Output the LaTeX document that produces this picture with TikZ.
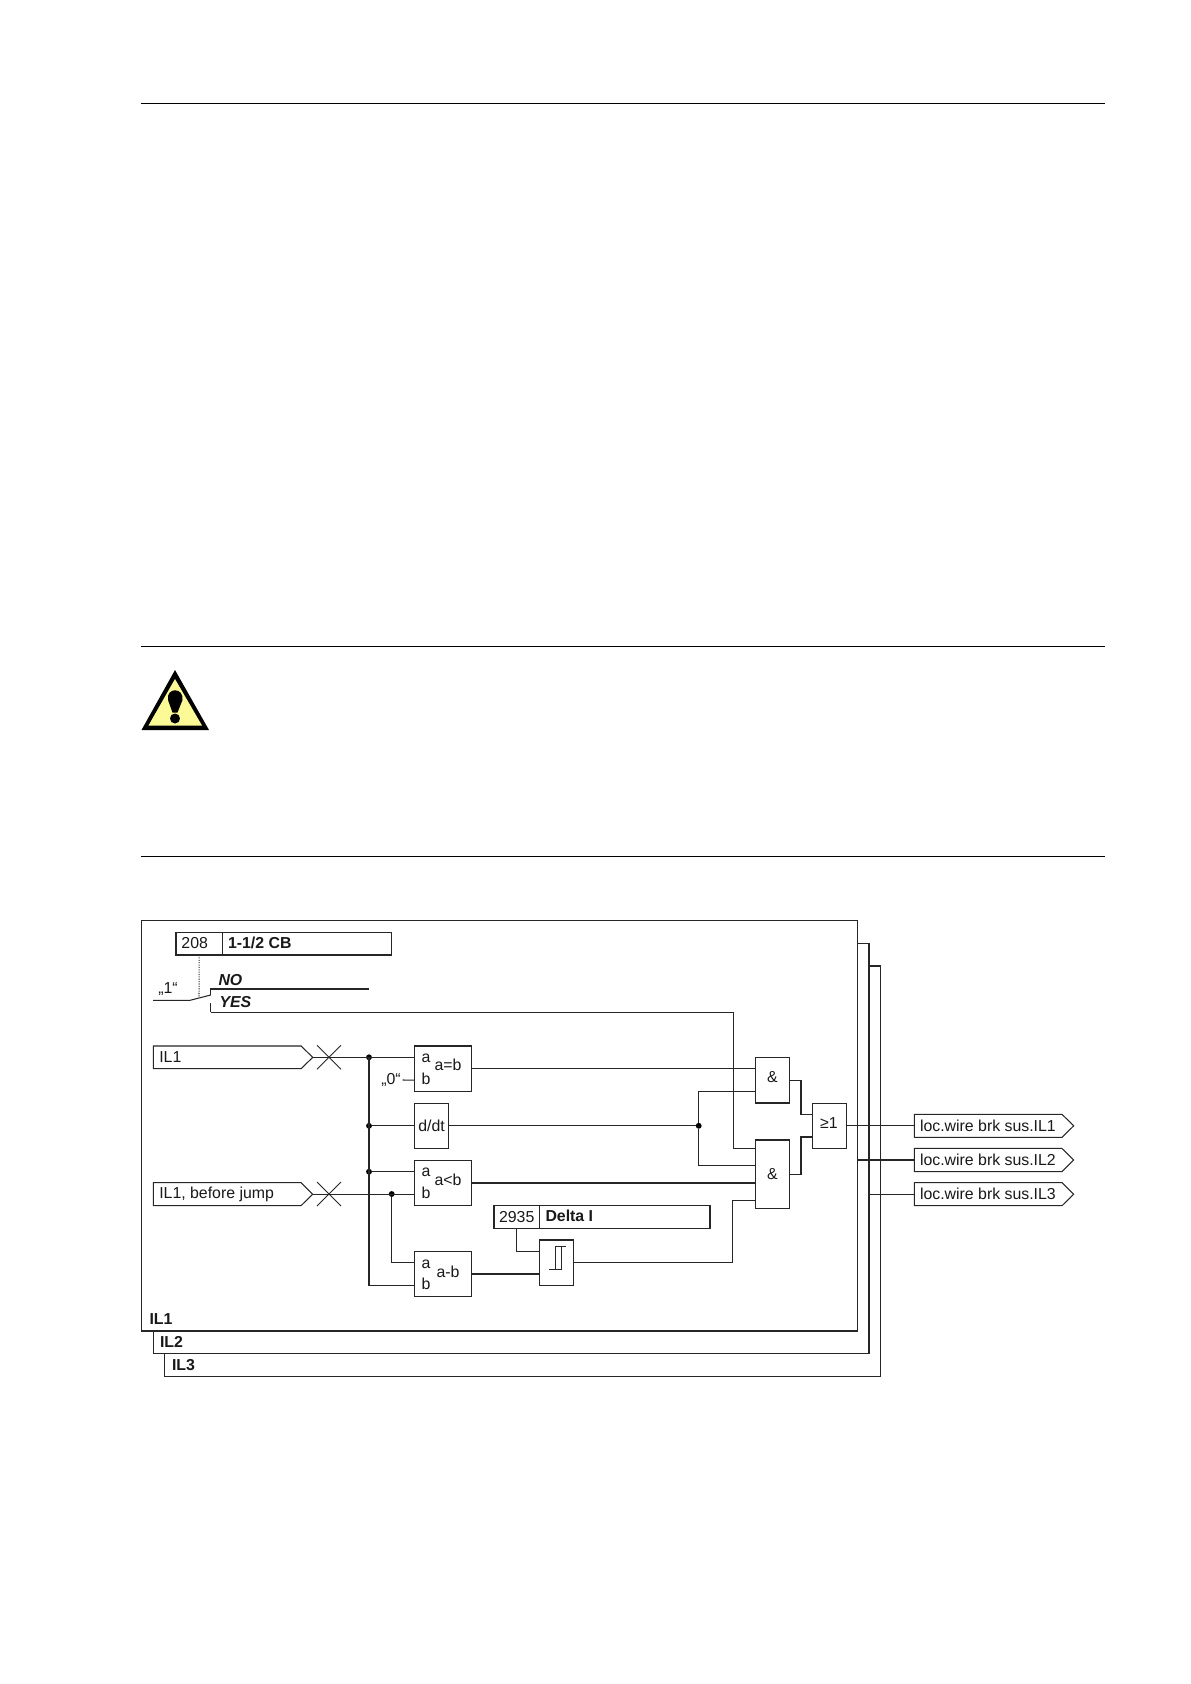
\documentclass[tikz,border=0pt]{standalone}
\usepackage{fontspec}
\setmainfont{Liberation Sans}
\usetikzlibrary{shapes.misc,shapes.symbols,calc}
\definecolor{ln}{gray}{0.15}
\definecolor{warny}{RGB}{252,250,150}
\tikzset{
  wire/.style={draw=ln,line width=0.78pt},
  bx/.style={draw=ln,line width=0.78pt,fill=white,rectangle,inner sep=0pt,outer sep=0pt,font=\fontsize{11.9}{14}\selectfont,text=black!90},
  txt/.style={inner sep=0pt,outer sep=0pt,font=\fontsize{11.9}{14}\selectfont,text=black!90},
  btxt/.style={txt,font=\fontsize{11.9}{14}\selectfont\bfseries},
  itxt/.style={txt,font=\fontsize{11.9}{14}\selectfont\bfseries\itshape},
  tagsh/.style={draw=ln,line width=0.78pt,fill=white,signal,signal to=east,signal from=nowhere,signal pointer angle=89,inner sep=0pt,outer sep=0pt,anchor=west},
  crs/.style={draw=ln,line width=0.7pt,cross out,inner sep=0pt,outer sep=0pt,minimum width=18pt,minimum height=18pt},
  jn/.style={circle,fill=black,inner sep=0pt,outer sep=0pt,minimum size=4.4pt},
  rulel/.style={draw=black,line width=0.8pt}
}
\newcommand\bxn[6]{\node[bx,minimum width={(#4-#2)*0.75pt},minimum height={(#5-#3)*0.75pt}] (#1) at ({(#2+#4)/2},{(#3+#5)/2}) {#6};}
\newcommand\tagn[5]{\node[tagsh,minimum width={(#4-#2)*0.75pt},minimum height={(#5-#3)*0.75pt}] (#1) at (#2,{(#3+#5)/2}) {};}
\begin{document}
\begin{tikzpicture}[x=0.75pt,y=-0.75pt]
\useasboundingbox (0,0) rectangle (1190,1684);
% page rules
\coordinate (r1a) at (141,103.5); \coordinate (r1b) at (1105,103.5);
\coordinate (r2a) at (141,646.5); \coordinate (r2b) at (1105,646.5);
\coordinate (r3a) at (141,856.5); \coordinate (r3b) at (1105,856.5);
\draw[rulel] (r1a)--(r1b); \draw[rulel] (r2a)--(r2b); \draw[rulel] (r3a)--(r3b);
% warning icon
\fill[black] (175,670)--(209,730)--(141.5,730)--cycle;
\fill[warny] (175,679)--(202,725.5)--(148.5,725.5)--cycle;
\fill[black] (168,700) .. controls (166,687) and (184,687) .. (182.5,700) -- (177.5,712.5) -- (172.5,712.5) -- cycle;
\fill[black] (175,718.5) circle[radius=5];
% frames
\bxn{f3}{164.7}{966}{880.3}{1376.3}{}
\bxn{f2}{153.3}{943.3}{869}{1353.7}{}
\bxn{f1}{141.7}{920.3}{857.5}{1331}{}
\node[btxt,anchor=west] (lf1) at (149.5,1319) {IL1};
\node[btxt,anchor=west] (lf2) at (160,1342) {IL2};
\node[btxt,anchor=west] (lf3) at (172,1365) {IL3};
% parameter 208
\bxn{p208}{176}{932.3}{222.3}{955}{}
\bxn{p208t}{222.3}{932.3}{391.7}{955}{}
\node[txt] (t208) at (194.7,943.5) {208};
\node[btxt,anchor=west] (tcb) at (228,943) {1-1/2 CB};
\node[itxt,anchor=west] (tno) at (218.5,980) {NO};
\node[itxt,anchor=west] (tyes) at (219.5,1002) {YES};
\node[txt] (tone) at (168,989) {„1“};
\coordinate (sw0) at (153,1000.3);
\coordinate (sw1) at (190,1000.3);
\coordinate (sw2) at (210.7,995);
\coordinate (swd) at (199,997.5);
\coordinate (no0) at (210.7,989);
\coordinate (no1) at (369.3,989);
\coordinate (ye0) at (210.7,1003.3);
\coordinate (ye1) at (210.7,1012.3);
\draw[wire] (sw0)--(sw1)--(sw2);
\draw[wire] (sw2)--(no0)--(no1);
\draw[wire] (ye0)--(ye1);
\draw[wire,densely dotted] (p208.south)++(0,0) -- (swd);
% input tags
\tagn{tga}{153.3}{1046}{312.7}{1068.7}
\tagn{tgb}{153.3}{1182.7}{312.7}{1205.7}
\node[txt,anchor=west] (tla) at (159.3,1057.3) {IL1};
\node[txt,anchor=west] (tlb) at (159.3,1194) {IL1, before jump};
\node[crs] (xa) at (329,1057.3) {};
\node[crs] (xb) at (329,1194) {};
% blocks
\bxn{eq}{414.3}{1046}{471.7}{1091.7}{}
\bxn{ddt}{414.3}{1103.3}{448.7}{1148.3}{d/dt}
\bxn{lt}{414.3}{1160.3}{471.7}{1205.7}{}
\bxn{df}{414.3}{1251.3}{471.7}{1296.7}{}
\bxn{sm}{539.3}{1240}{573.7}{1285.3}{}
\bxn{p29}{494}{1205.7}{539.3}{1228.7}{}
\bxn{p29t}{539.3}{1205.7}{710}{1228.7}{}
\bxn{g1}{755.3}{1057.3}{789.7}{1103}{}
\bxn{g2}{755.3}{1140}{789.7}{1208.3}{}
\bxn{org}{812.3}{1103.3}{846.3}{1148.3}{}
\node[txt] (ta1) at (426,1058.5) {a};
\node[txt] (tb1) at (426,1078.5) {b};
\node[txt] (tq1) at (448,1065) {a=b};
\node[txt] (ta2) at (426,1172) {a};
\node[txt] (tb2) at (426,1193) {b};
\node[txt] (tq2) at (448,1180) {a<b};
\node[txt] (ta3) at (426,1264) {a};
\node[txt] (tb3) at (426,1284) {b};
\node[txt] (tq3) at (448,1271.5) {a-b};
\node[txt] (tzero) at (391,1080) {„0“};
\node[txt] (t2935) at (516.7,1216.7) {2935};
\node[btxt,anchor=west] (tdelta) at (545.5,1216.2) {Delta I};
\node[txt] (tg1) at (772.5,1077) {\&};
\node[txt] (tg2) at (772.5,1174) {\&};
\node[txt] (tor) at (829,1123) {≥1};
% schmitt symbol
\coordinate (s1) at (549.3,1269.7);
\coordinate (s2) at (561,1269.7);
\coordinate (s3) at (561,1246.7);
\coordinate (s4) at (565.7,1246.7);
\coordinate (s5) at (555.7,1246.7);
\coordinate (s6) at (555.7,1269.7);
\draw[draw=ln,line width=0.7pt] (s1)--(s2)--(s3);
\draw[draw=ln,line width=0.7pt] (s6)--(s5)--(s4);
% output tags
\tagn{o1}{914.3}{1114.3}{1073.7}{1137.3}
\tagn{o2}{914.3}{1148.3}{1073.7}{1171.7}
\tagn{o3}{914.3}{1182.7}{1073.7}{1205.7}
\node[txt,anchor=west] (to1) at (920,1125.5) {loc.wire brk sus.IL1};
\node[txt,anchor=west] (to2) at (920,1159.5) {loc.wire brk sus.IL2};
\node[txt,anchor=west] (to3) at (920,1194) {loc.wire brk sus.IL3};
% junction and routing points
\coordinate (bus) at (369,1057.3);
\coordinate (busb) at (369,1285.3);
\node[jn] (j1) at (369,1057.3) {};
\node[jn] (j2) at (369,1125.8) {};
\node[jn] (j3) at (369,1171.7) {};
\node[jn] (j4) at (391.7,1194) {};
\node[jn] (j5) at (698.7,1125.8) {};
% wires
\draw[wire] (tga.east)--(tga.east -| eq.west);
\draw[wire] (tgb.east)--(tgb.east -| lt.west);
\draw[wire] (bus)--(busb)--(busb -| df.west);
\draw[wire] (j2)--(ddt.west);
\draw[wire] (j3)--(j3 -| lt.west);
\draw[wire] (j4)|-($(df.west)+(0,-11.3)$);
\draw[wire] (tzero.east)+(2,0) -- ($(eq.west)+(0,11.2)$);
\draw[wire] (ddt.east)--(j5);
\draw[wire] ($(eq.east)$)--(eq.east -| g1.west);
\draw[wire] (lt.east)--(lt.east -| g2.west);
\draw[wire] (ye1)-|(733.3,1148.3)--(733.3,1148.3 -| g2.west);
\draw[wire] (j5)|-(698.7,1091.7)--(698.7,1091.7 -| g1.west);
\draw[wire] (j5)|-(698.7,1165.7)--(698.7,1165.7 -| g2.west);
\draw[wire] (df.east)--(df.east -| sm.west);
\draw[wire] (p29.south)|-(516.7,1251.3)--(516.7,1251.3 -| sm.west);
\draw[wire] (sm.east)-|(732.3,1200.3)--(732.3,1200.3 -| g2.west);
\draw[wire] (g1.east)-|(801,1114.3)--(801,1114.3 -| org.west);
\draw[wire] (g2.east)-|(801,1137)--(801,1137 -| org.west);
\draw[wire] (org.east)--(org.east -| o1.west);
\draw[wire] (f1.east |- o2.west)--(o2.west);
\draw[wire] (f2.east |- o3.west)--(o3.west);
\end{tikzpicture}
\end{document}
